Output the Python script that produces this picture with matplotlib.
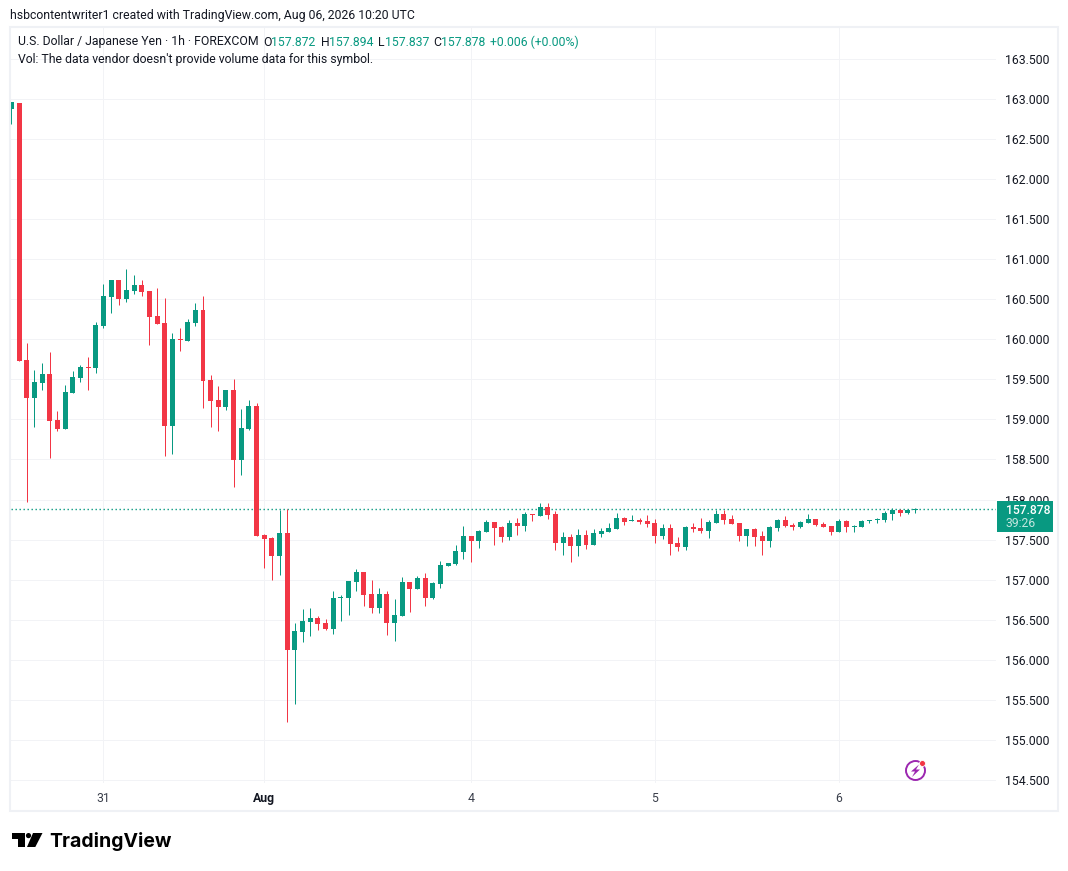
import matplotlib
matplotlib.use("Agg")
import matplotlib.pyplot as plt
from matplotlib.patches import Circle, Polygon, Rectangle
import numpy as np

# === Hourly USD/JPY candles ===
opens = [
    162.880, 162.955, 159.746, 159.270, 159.460, 159.570, 158.997, 158.885, 159.335, 159.520,
    159.660, 159.646, 160.170, 160.533, 160.745, 160.508, 160.608, 160.683, 160.608, 160.296,
    160.208, 158.923, 160.009, 159.984, 160.208, 160.371, 159.497, 159.247, 159.160, 159.372,
    158.498, 158.885, 159.172, 157.562, 157.524, 157.300, 157.587, 156.126, 156.351, 156.475,
    156.525, 156.463, 156.388, 156.775, 156.775, 156.975, 157.100, 156.825, 156.650, 156.825,
    156.463, 156.550, 156.975, 156.887, 157.025, 156.775, 156.950, 157.175, 157.200, 157.349,
    157.549, 157.487, 157.600, 157.724, 157.661, 157.537, 157.711, 157.674, 157.824, 157.799,
    157.911, 157.824, 157.462, 157.537, 157.424, 157.562, 157.437, 157.574, 157.600, 157.637,
    157.774, 157.736, 157.749, 157.736, 157.711, 157.549, 157.649, 157.462, 157.412, 157.661,
    157.649, 157.612, 157.711, 157.824, 157.761, 157.711, 157.549, 157.637, 157.549, 157.487,
    157.649, 157.749, 157.686, 157.661, 157.711, 157.761, 157.699, 157.674, 157.600, 157.736,
    157.661, 157.661, 157.736, 157.749, 157.749, 157.824, 157.874, 157.836, 157.872,
]
highs = [
    162.959, 162.955, 159.958, 159.620, 159.700, 159.846, 159.100, 159.434, 159.610, 159.680,
    159.784, 160.220, 160.695, 160.745, 160.745, 160.880, 160.807, 160.745, 160.608, 160.645,
    160.520, 160.084, 160.146, 160.258, 160.458, 160.546, 159.559, 159.422, 159.372, 159.510,
    159.135, 159.247, 159.210, 157.574, 157.537, 157.874, 157.886, 156.463, 156.638, 156.650,
    156.550, 156.513, 156.862, 156.813, 156.987, 157.137, 157.100, 157.000, 156.900, 156.862,
    156.763, 157.037, 156.975, 157.050, 157.087, 156.975, 157.237, 157.212, 157.437, 157.674,
    157.549, 157.624, 157.749, 157.724, 157.674, 157.749, 157.774, 157.849, 157.824, 157.961,
    157.961, 157.861, 157.599, 157.574, 157.637, 157.624, 157.637, 157.649, 157.711, 157.836,
    157.786, 157.811, 157.774, 157.811, 157.761, 157.699, 157.699, 157.537, 157.674, 157.711,
    157.774, 157.749, 157.874, 157.874, 157.811, 157.711, 157.637, 157.649, 157.612, 157.674,
    157.761, 157.799, 157.711, 157.736, 157.824, 157.761, 157.724, 157.674, 157.761, 157.749,
    157.686, 157.749, 157.749, 157.774, 157.861, 157.899, 157.886, 157.886, 157.894,
]
lows = [
    162.690, 159.734, 157.965, 158.910, 159.370, 158.520, 158.850, 158.885, 159.335, 159.470,
    159.370, 159.580, 160.146, 160.333, 160.433, 160.470, 160.570, 160.545, 159.934, 160.196,
    158.548, 158.573, 159.859, 159.984, 160.171, 159.147, 158.910, 158.860, 159.122, 158.161,
    158.311, 158.873, 157.549, 157.150, 157.000, 157.062, 155.227, 155.452, 156.226, 156.301,
    156.376, 156.376, 156.326, 156.488, 156.563, 156.862, 156.675, 156.588, 156.588, 156.313,
    156.238, 156.550, 156.600, 156.887, 156.675, 156.763, 156.900, 157.175, 157.187, 157.262,
    157.225, 157.400, 157.600, 157.437, 157.474, 157.500, 157.562, 157.612, 157.736, 157.799,
    157.761, 157.374, 157.312, 157.225, 157.300, 157.387, 157.437, 157.537, 157.600, 157.637,
    157.686, 157.736, 157.699, 157.661, 157.462, 157.512, 157.312, 157.362, 157.374, 157.599,
    157.587, 157.524, 157.711, 157.699, 157.699, 157.487, 157.424, 157.424, 157.312, 157.412,
    157.612, 157.661, 157.624, 157.649, 157.711, 157.674, 157.661, 157.562, 157.600, 157.600,
    157.600, 157.661, 157.711, 157.711, 157.724, 157.749, 157.799, 157.824, 157.837,
]
closes = [
    162.959, 159.734, 159.270, 159.470, 159.570, 158.985, 158.885, 159.347, 159.534, 159.660,
    159.646, 160.183, 160.545, 160.745, 160.508, 160.620, 160.683, 160.595, 160.283, 160.196,
    158.923, 160.009, 159.996, 160.221, 160.371, 159.484, 159.235, 159.160, 159.372, 158.498,
    158.898, 159.172, 157.549, 157.512, 157.300, 157.587, 156.126, 156.363, 156.488, 156.525,
    156.450, 156.388, 156.775, 156.788, 156.987, 157.100, 156.813, 156.650, 156.825, 156.463,
    156.563, 156.975, 156.887, 157.025, 156.775, 156.962, 157.187, 157.212, 157.362, 157.549,
    157.487, 157.612, 157.724, 157.649, 157.537, 157.711, 157.674, 157.824, 157.811, 157.911,
    157.811, 157.462, 157.537, 157.424, 157.562, 157.437, 157.587, 157.612, 157.649, 157.774,
    157.724, 157.749, 157.724, 157.699, 157.549, 157.649, 157.449, 157.412, 157.661, 157.637,
    157.612, 157.724, 157.824, 157.749, 157.699, 157.549, 157.637, 157.537, 157.487, 157.661,
    157.749, 157.674, 157.661, 157.724, 157.761, 157.686, 157.661, 157.600, 157.736, 157.661,
    157.674, 157.736, 157.749, 157.761, 157.836, 157.874, 157.836, 157.874, 157.878,
]

price_ticks = [154.5 + 0.5 * i for i in range(19)]
date_positions = [12, 33, 60, 84, 108]
date_labels = ["31", "Aug", "4", "5", "6"]
last_price = 157.878

GREEN = "#089981"
RED = "#f23645"
GRID = "#f2f3f6"
FRAME = "#eff1f5"
TEXT = "#131722"

W, H = 1068, 871
plt.rcParams["font.family"] = "Roboto"
fig = plt.figure(figsize=(W / 100, H / 100), dpi=100)

# pixel helpers, pane box is 11..996 x 28..783
L, R, T, B = 11, 996, 28, 783
ax = fig.add_axes([L / W, 1 - B / H, (R - L) / W, (B - T) / H])

x = np.arange(len(opens))
o, hi, lo, c = map(np.array, (opens, highs, lows, closes))
colors = [GREEN if cl >= op else RED for op, cl in zip(opens, closes)]

step = 7.66
x0 = 11.5
ax.set_xlim((L - x0) / step, (R - x0) / step)
per_unit = 80.1
y163 = 99.0
ax.set_ylim(163 - (B - y163) / per_unit, 163 + (y163 - T) / per_unit)

# === Grid, last price line, candles ===
ax.set_axisbelow(True)
ax.grid(True, color=GRID, linewidth=0.72)
ax.axhline(last_price, color=GREEN, linewidth=1.0, linestyle=(0, (1, 1.88)), zorder=1.5)
wicks = ax.vlines(x, lo, hi, colors=colors, linewidth=0.72, zorder=2)
wicks.set_snap(True)
body = np.maximum(np.abs(c - o), 0.012)
ax.bar(x, body, bottom=np.minimum(o, c), width=0.65, color=colors, linewidth=0, zorder=3)

ax.yaxis.tick_right()
ax.set_yticks(price_ticks)
ax.set_yticklabels([f"{p:.3f}" for p in price_ticks], fontsize=8.8, color=TEXT)
ax.set_xticks(date_positions)
ax.set_xticklabels(date_labels, fontsize=8.8, color="#3a3f4b")
ax.get_xticklabels()[1].set_color(TEXT)
ax.get_xticklabels()[1].set_fontweight("bold")
ax.tick_params(axis="both", length=0)
ax.tick_params(axis="y", pad=6.5)
ax.tick_params(axis="x", pad=6.5)
for s in ax.spines.values():
    s.set_visible(False)

# === Overlay in pixel coordinates: frame, header, price tag, logos ===
ov = fig.add_axes([0, 0, 1, 1], facecolor="none")
ov.set_xlim(0, W)
ov.set_ylim(H, 0)
ov.axis("off")

ov.add_patch(Rectangle((10, 27), 1048, 784, fill=False, edgecolor=FRAME, linewidth=1.5))

ov.text(10, 15, "hsbcontentwriter1 created with TradingView.com, Aug 06, 2026 10:20 UTC",
        fontsize=8.8, color=TEXT, va="center")
ov.text(18, 42, "U.S. Dollar / Japanese Yen · 1h · FOREXCOM", fontsize=8.8, color=TEXT, va="center")
header_parts = [
    (263, "O", TEXT), (271, "157.872", GREEN),
    (321, "H", TEXT), (329, "157.894", GREEN),
    (378, "L", TEXT), (385, "157.837", GREEN),
    (433, "C", TEXT), (441, "157.878", GREEN),
    (490, "+0.006 (+0.00%)", GREEN),
]
for px, label, col in header_parts:
    ov.text(px, 42, label, fontsize=8.8, color=col, va="center")
ov.text(18, 59, "Vol: The data vendor doesn't provide volume data for this symbol.",
        fontsize=8.8, color=TEXT, va="center")

ov.add_patch(Rectangle((997, 501), 56, 31, facecolor=GREEN, edgecolor="none"))
ov.text(1006, 510, f"{last_price:.3f}", fontsize=8.7, color="white", va="center", fontweight="medium")
ov.text(1006, 523, "39:26", fontsize=8.7, color="#c4e6df", va="center")

# lightning badge
ov.add_patch(Circle((915.5, 770.5), 9.5, fill=False, edgecolor="#9c27b0", linewidth=1.4))
ov.add_patch(Polygon([(919, 764.5), (911, 771.5), (915, 771.5), (912, 777), (920, 769.5), (916, 769.5)],
                     closed=True, facecolor="#9c27b0", edgecolor="none"))
ov.add_patch(Circle((922.5, 763.5), 3.0, facecolor=RED, edgecolor="white", linewidth=0.6))

# TradingView logo
ov.add_patch(Polygon([(11.5, 833), (25.3, 833), (25.3, 847), (18, 847), (18, 838.5), (11.5, 838.5)],
                     closed=True, facecolor="black", edgecolor="none"))
ov.add_patch(Circle((28.5, 835.6), 2.6, facecolor="black", edgecolor="none"))
ov.add_patch(Polygon([(33, 833), (42.5, 833), (35.3, 847), (27, 847)],
                     closed=True, facecolor="black", edgecolor="none"))
ov.text(49, 846.5, "TradingView", fontsize=14, family="Inter", fontweight="bold", color="black", va="baseline")

fig.savefig("out.png", dpi=100, facecolor="white")
